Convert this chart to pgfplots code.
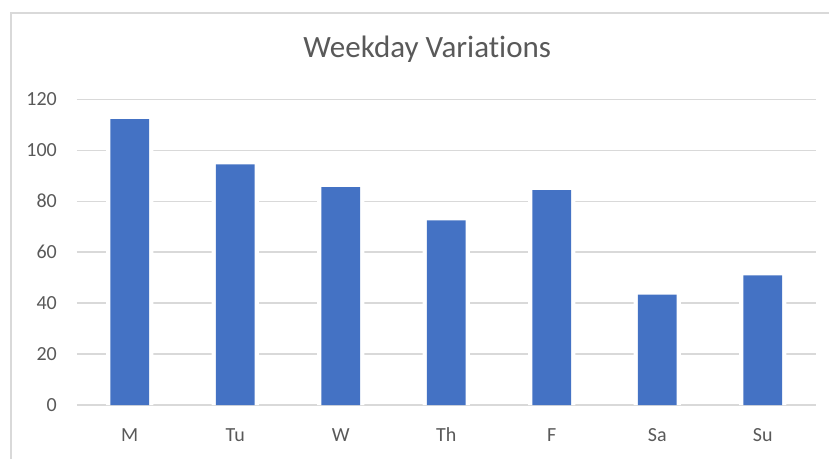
\documentclass[border=0pt]{standalone}
\usepackage{pgfplots}
\pgfplotsset{compat=1.18}
\usepackage{fontspec}
\setmainfont{Carlito}[Ligatures={NoCommon}]
\definecolor{barblue}{HTML}{4472C4}
\definecolor{gridgray}{HTML}{D9D9D9}
\definecolor{txtgray}{HTML}{595959}
\begin{document}
\begin{tikzpicture}
\path[use as bounding box] (-77bp,-54bp) rectangle (752bp,405bp);
\draw[gridgray, line width=2bp] (-66bp,-70bp) rectangle (770bp,392bp);
\begin{axis}[
  at={(0,0)}, anchor=south west,
  scale only axis,
  width=738.5bp, height=305.7bp,
  xmin=-0.5, xmax=6.5,
  ymin=0, ymax=120,
  ytick={0,20,...,120},
  xtick={0,...,6},
  xticklabels={M,Tu,W,Th,F,Sa,Su},
  axis line style={draw=none},
  major tick length=0pt,
  ymajorgrids,
  grid style={gridgray, line width=1.3bp},
  /pgf/number format/assume math mode=true,
  ticklabel style={font=\fontsize{20bp}{24bp}\selectfont, text=txtgray, inner sep=0pt},
  yticklabel style={anchor=east, xshift=-20bp},
  xticklabel style={anchor=base, yshift=-36.7bp},
  clip=false,
]
\addplot[ybar, bar width=47.2bp, bar shift=0pt, fill=white, draw=none]
  coordinates {(0,112.2) (1,94.5) (2,85.5) (3,72.5) (4,84.3) (5,43.3) (6,50.9)};
\addplot[ybar, bar width=38.6bp, bar shift=0pt, fill=barblue, draw=none]
  coordinates {(0,112.2) (1,94.5) (2,85.5) (3,72.5) (4,84.3) (5,43.3) (6,50.9)};
\node[anchor=base, inner sep=0pt, text=txtgray, font=\fontsize{31bp}{36bp}\selectfont]
  at (axis description cs:0.4743,1.1374) {Weekday Variations};
\end{axis}
\end{tikzpicture}
\end{document}
